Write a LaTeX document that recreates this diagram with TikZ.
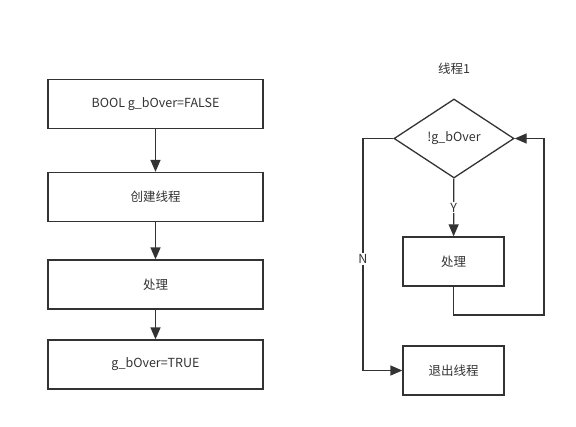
\documentclass[tikz,border=0pt]{standalone}
\usepackage{fontspec}
\setmainfont{Noto Sans CJK SC}
\usetikzlibrary{shapes.geometric,arrows.meta}
\definecolor{ink}{HTML}{333333}
\tikzset{
  box/.style={draw=ink, line width=1.3pt, minimum width=215pt, minimum height=49pt, inner sep=0pt},
  decision/.style={diamond, draw=ink, line width=1.3pt, minimum width=120pt, minimum height=79pt, inner sep=0pt},
  arr/.style={draw=ink, line width=1.3pt, -{Triangle[length=12pt,width=10pt]}},
  lbl/.style={fill=white, inner sep=1pt}
}
\begin{document}
\begin{tikzpicture}[x=1pt,y=-1pt,font=\fontsize{12.5}{14}\selectfont,text=ink]
\useasboundingbox (0,0) rectangle (576,426);

% main thread
\node[box] (init) at (155.5,104) {BOOL g\_bOver=FALSE};
\node[box] (create) at (155.5,197) {创建线程};
\node[box] (work1) at (155.5,284.5) {处理};
\node[box] (done) at (155.5,364.5) {g\_bOver=TRUE};
\draw[arr] (init) -- (create);
\draw[arr] (create) -- (work1);
\draw[arr] (work1) -- (done);

% thread 1
\node (title) at (454,69) {线程1};
\node[decision] (test) at (454,138.5) {!g\_bOver};
\node[box, minimum width=101pt] (work2) at (453.5,261.5) {处理};
\node[box, minimum width=101pt] (quit) at (453.5,370.5) {退出线程};
\draw[arr] (test) -- node[lbl] (yes) {Y} (work2);

% loop back
\coordinate (back) at (544,315);
\draw[arr] (work2.south) |- (back) |- (test.east);

% exit
\coordinate (turn) at (363,138.5);
\draw[arr] (test.west) -- (turn) |- (quit.west);
\node[lbl] (no) at (363,259) {N};

\end{tikzpicture}
\end{document}
